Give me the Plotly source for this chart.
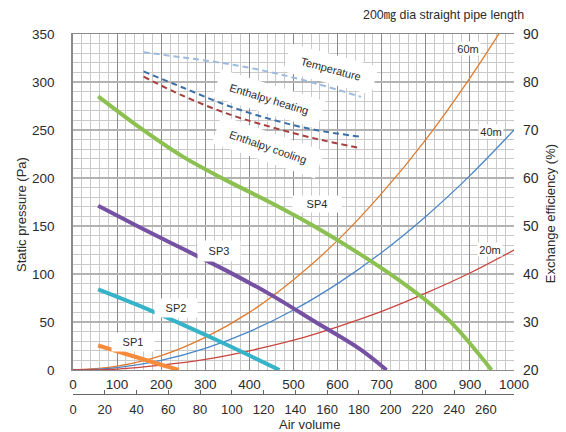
import plotly.graph_objects as go

# Air volume (m3/h) vs static pressure (Pa) for each fan speed setting
sp1_q = [57, 100, 150, 200, 240]
sp1_p = [25.5, 19.5, 12.5, 5.5, 0]
sp2_q = [57, 150, 250, 350, 468]
sp2_p = [84, 67, 47, 26, 0]
sp3_q = [57, 150, 250, 350, 450, 550, 650, 711]
sp3_p = [171, 149, 126, 103, 78, 50, 22, 0]
sp4_q = [57, 150, 250, 350, 450, 550, 650, 750, 850, 949]
sp4_p = [285, 253, 222, 197, 174, 149, 121, 90, 53, 0]

# Duct resistance of a 200 mm straight pipe (Pa)
pipe_q = [0, 100, 200, 300, 400, 500, 600, 700, 800, 900, 1000]
pipe20_p = [0, 1, 5, 11, 20, 31, 45, 61, 80, 101, 125]
pipe40_p = [0, 2.5, 10, 22.5, 40, 62.5, 90, 122.5, 160, 202.5, 250]
pipe60_p = [0, 4, 15, 34, 60, 94, 135, 184, 240, 304, 375]

# Exchange efficiency (%)
eff_q = [160, 250, 350, 450, 550, 653]
temp_e = [86.2, 85.1, 83.8, 82.0, 79.7, 76.9]
heat_e = [82.2, 78.8, 75.1, 72.2, 70.0, 68.6]
cool_e = [81.1, 77.1, 73.4, 70.6, 68.2, 66.2]

x_ticks = list(range(0, 1001, 100))
x2_ticks = list(range(0, 261, 20))
LS_PER_M3H = 1 / 3.6

FONT = "Liberation Sans, Arial, Helvetica, sans-serif"
TXT = "#2b2b2b"

fig = go.Figure()

def curve(x, y, color, width, dash=None, axis="y"):
    fig.add_trace(go.Scatter(
        x=x, y=y, mode="lines", yaxis=axis, hoverinfo="skip",
        line=dict(color=color, width=width, dash=dash, shape="spline", smoothing=1),
        showlegend=False))

curve(pipe_q, pipe60_p, "#E07B2E", 1.3)
curve(pipe_q, pipe40_p, "#4A86C8", 1.3)
curve(pipe_q, pipe20_p, "#C9463F", 1.3)
curve(sp1_q, sp1_p, "#F68B3A", 4)
curve(sp2_q, sp2_p, "#36B3C9", 4)
curve(sp3_q, sp3_p, "#7650A2", 4)
curve(sp4_q, sp4_p, "#8CC152", 4)
curve(eff_q, temp_e, "#9DBADF", 2, "6px,4px", "y2")
curve(eff_q, heat_e, "#3B6FA9", 2, "6px,4px", "y2")
curve(eff_q, cool_e, "#A83F3F", 2, "6px,4px", "y2")

# Same SP4 curve expressed in L/s, kept transparent, so the L/s scale is laid out
fig.add_trace(go.Scatter(
    x=[q * LS_PER_M3H for q in sp4_q], y=sp4_p, xaxis="x2", mode="lines",
    line=dict(width=0), opacity=0, hoverinfo="skip", showlegend=False))

annotations = []

def box_label(text, x, y, w, h, angle=0, size=11, axis="y"):
    annotations.append(dict(
        text=text, x=x, y=y, xref="x", yref=axis, showarrow=False,
        textangle=angle, width=w, height=h, bgcolor="white", borderpad=0,
        font=dict(family=FONT, size=size, color=TXT)))

box_label("SP1", 136, 29.5, 42, 18)
box_label("SP2", 233, 65, 42, 18)
box_label("SP3", 332, 124, 42, 20)
box_label("SP4", 553, 173, 48, 16)
box_label("Temperature", 585, 314, 90, 28, angle=15)
box_label("Enthalpy heating", 444, 282, 108, 28, angle=17)
box_label("Enthalpy cooling", 442, 232, 108, 28, angle=19)
box_label("60m", 895, 335, 24, 13)
box_label("40m", 947, 248, 24, 13)
box_label("20m", 945, 126, 24, 13)

annotations += [
    dict(text="200\u338e dia straight pipe length", xref="paper", yref="paper",
         x=1.027, y=1.053, xanchor="right", yanchor="middle", showarrow=False,
         font=dict(family=FONT + ", Noto Sans CJK JP", size=12.4, color=TXT)),
    dict(text="Air volume", xref="paper", yref="paper", x=0.537, y=-0.0835,
         xanchor="center", yanchor="middle", showarrow=False,
         font=dict(family=FONT, size=13, color=TXT)),
    dict(text="Static pressure (Pa)", xref="paper", yref="paper", x=-0.118, y=0.5,
         xanchor="center", yanchor="middle", textangle=-90, showarrow=False,
         font=dict(family=FONT, size=13, color=TXT)),
    dict(text="Exchange efficiency (%)", xref="paper", yref="paper", x=1.082, y=0.5,
         xanchor="center", yanchor="middle", textangle=-90, showarrow=False,
         font=dict(family=FONT, size=13, color=TXT)),
]

tick_font = dict(family=FONT, size=13.5, color=TXT)
ydom = [24 / 360, 1]

fig.update_layout(
    width=566, height=432,
    margin=dict(l=73, r=52, t=34, b=38),
    paper_bgcolor="white", plot_bgcolor="white",
    annotations=annotations,
    xaxis=dict(
        range=[0, 1000], tickvals=x_ticks, ticks="", anchor="y",
        tickfont=tick_font, ticklabelstandoff=2,
        showgrid=True, gridcolor="#8a8a8a", gridwidth=1,
        minor=dict(dtick=20, tick0=0, showgrid=True, gridcolor="#c9c9c9", gridwidth=1),
        showline=True, linecolor="#8a8a8a", linewidth=1, mirror=True,
        zeroline=False, fixedrange=True),
    xaxis2=dict(
        range=[0, 1000 * LS_PER_M3H], tickvals=x2_ticks, overlaying="x",
        anchor="free", position=0, side="bottom",
        ticks="inside", ticklen=4, tickcolor="#666", tickwidth=1,
        tickfont=dict(family=FONT, size=13, color=TXT), ticklabelstandoff=3,
        showline=True, linecolor="#666", linewidth=1,
        showgrid=False, zeroline=False, fixedrange=True),
    yaxis=dict(
        domain=ydom, range=[0, 350], dtick=50, ticks="",
        tickfont=tick_font, ticklabelstandoff=14,
        showgrid=True, gridcolor="#b3b3b3", gridwidth=2,
        minor=dict(dtick=10, tick0=0, showgrid=True, gridcolor="#c9c9c9", gridwidth=1),
        showline=True, linecolor="#8a8a8a", linewidth=1.5,
        zeroline=False, fixedrange=True),
    yaxis2=dict(
        range=[20, 90], dtick=10, overlaying="y", side="right", anchor="x",
        ticks="", tickfont=dict(family=FONT, size=14, color=TXT), ticklabelstandoff=8,
        showgrid=False, zeroline=False, showline=False, fixedrange=True),
)

fig.write_html("out.html")
